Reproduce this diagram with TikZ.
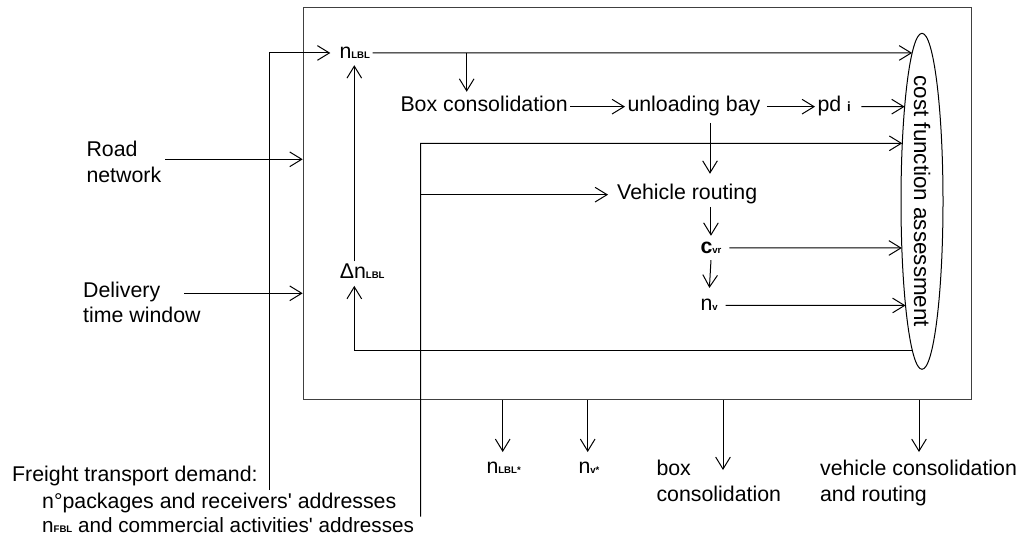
\documentclass[tikz,border=0pt]{standalone}
\usepackage{fontspec}
\setmainfont{Liberation Sans}
\usetikzlibrary{arrows.meta,shapes.geometric,intersections}
\newcommand{\sbx}[1]{{\fontsize{7.2pt}{7.2pt}\selectfont\bfseries #1}}
\newcommand{\bigf}{\fontsize{16pt}{19.2pt}\selectfont}
\begin{document}
\begin{tikzpicture}[x=0.75pt,y=-0.75pt,line width=0.75pt,
  >={Straight Barb[length=9pt,width=11pt]},
  lbl/.style={font=\bigf, inner xsep=1.5pt, inner ysep=1.5pt, text height=11.3pt, text depth=3.3pt, anchor=base west},
  txt/.style={font=\bigf, inner sep=0pt, align=left, anchor=north west},
  stxt/.style={font=\bigf, inner sep=0pt, anchor=base west}]
\useasboundingbox (0,0) rectangle (1021,538);
% frame
\node[draw=black!75, minimum width=501pt, minimum height=294.45pt, inner sep=0pt, anchor=north west] (box) at (302.7,6.7) {};
% ellipse
\node[draw, ellipse, minimum width=31.5pt, minimum height=252pt, inner sep=0pt, name path=E] (cfa) at (922,201.3) {};
\node[rotate=-90, font=\fontsize{16.8pt}{19pt}\selectfont, inner sep=0pt] (cfat) at (cfa.center) {cost function assessment};
% inner nodes
\node[lbl] (nlbl) at (337,58.3) {n\sbx{LBL}};
\node[lbl] (bc) at (398,112) {Box consolidation};
\node[lbl] (ub) at (625,112) {unloading bay};
\node[lbl] (pd) at (815,112) {pd {\fontsize{10pt}{10pt}\selectfont\bfseries i}};
\node[lbl] (vr) at (614.7,200) {Vehicle routing};
\node[lbl, anchor=west] (cvr) at (698,248) {{\bfseries c}\sbx{vr}};
\node[lbl, anchor=west] (nv) at (698,305.5) {n\sbx{v}};
\node[lbl] (dn) at (337.3,279) {Δn\sbx{LBL}};
% outer texts
\node[txt] (road) at (86,140.7) {Road\\network};
\node[txt] (dtw) at (82.7,281.4) {Delivery\\time window};
\node[stxt] (fr1) at (11.7,481.7) {Freight transport demand:};
\node[stxt] (fr2) at (41.7,508.3) {n°packages and receivers\textquotesingle{} addresses};
\node[stxt, font=\fontsize{15.5pt}{19pt}\selectfont] (fr3) at (41.7,532.7) {n\sbx{FBL} and commercial activities\textquotesingle{} addresses};
\node[stxt] (out1) at (486,473) {n\sbx{LBL*}};
\node[stxt] (out2) at (578,473) {n\sbx{v*}};
\node[txt] (out3) at (656,459.7) {box\\consolidation};
\node[txt] (out4) at (819.6,459.7) {vehicle consolidation\\and routing};
% helper coordinates
\coordinate (frb) at (269.3,490);
\coordinate (fbb) at (420.7,516.7);
\coordinate (fbk) at (420.7,143.3);
\coordinate (cC) at (354.3,200);
\coordinate (t1) at (466.7,52.95);
\coordinate (colA) at (710,150);
\coordinate (rty) at (600,350.7);
\coordinate (rs) at (165,159.3);
\coordinate (ds) at (184,293.3);
\coordinate (o1) at (502.7,452);
\coordinate (o2) at (587.7,452);
\coordinate (o3) at (723,470);
\coordinate (o4) at (919,452);
% intersections with the ellipse
\path[name path=h1] (nlbl.east) -- (nlbl.east -| cfa.center);
\path[name path=h2] (fbk) -- (fbk -| cfa.center);
\path[name path=h3] (pd.east) -- (pd.east -| cfa.center);
\path[name path=h4] (cvr.east) -- (cvr.east -| cfa.center);
\path[name path=h5] (nv.east) -- (nv.east -| cfa.center);
\path[name path=h6] (rty) -- (rty -| cfa.center);
\path[name intersections={of=h1 and E, by=e1}];
\path[name intersections={of=h2 and E, by=e2}];
\path[name intersections={of=h3 and E, by=e3}];
\path[name intersections={of=h4 and E, by=e4}];
\path[name intersections={of=h5 and E, by=e5}];
\path[name intersections={of=h6 and E, by=e6}];
% connectors
\draw[->, shorten >=5pt] (frb) |- (nlbl.west);
\draw[->] (nlbl.east) -- (e1);
\draw[->, shorten >=2pt] (t1) -- (t1 |- bc.north);
\draw[->] (bc.east) -- (ub.west);
\draw[->, shorten <=3pt] (ub.east) -- (pd.west);
\draw[->, shorten <=6pt] (pd.east) -- (e3);
\draw[->] (fbb) -- (fbk) -- (e2);
\draw[->, shorten >=5pt] (fbb |- vr.west) -- (vr.west);
\draw[->, shorten <=3pt, shorten >=6.5pt] (ub.south -| colA) -- (vr.north -| colA);
\draw[->] (vr.south -| cvr.north) -- (cvr.north);
\draw[->, shorten >=4pt] (cvr.south) -- (nv.north);
\draw[->, shorten <=4pt] (cvr.east) -- (e4);
\draw[->, shorten <=4pt] (nv.east) -- (e5);
\draw[->] (e6) -| (dn.south -| cC);
\draw[->] (dn.north -| cC) -- (nlbl.south -| cC);
\draw[->] (rs) -- (rs -| box.west);
\draw[->] (ds) -- (ds -| box.west);
\draw[->] (box.south -| o1) -- (o1);
\draw[->] (box.south -| o2) -- (o2);
\draw[->] (box.south -| o3) -- (o3);
\draw[->] (box.south -| o4) -- (o4);
\end{tikzpicture}
\end{document}
